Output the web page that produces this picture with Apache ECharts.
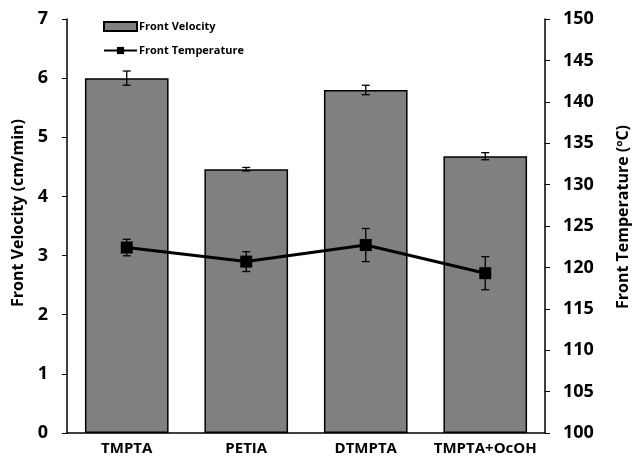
<!DOCTYPE html>
<html>
<head>
<meta charset="utf-8">
<script src="https://cdn.jsdelivr.net/npm/echarts@6/dist/echarts.min.js"></script>
<style>
  html, body { margin: 0; padding: 0; background: #fff; }
  #chart { width: 639px; height: 464px; }
</style>
</head>
<body>
<div id="chart"></div>
<script>
const categories = ['TMPTA', 'PETIA', 'DTMPTA', 'TMPTA+OcOH'];
const velocity = [6.0, 4.46, 5.8, 4.68];
const velocityErr = [0.12, 0.03, 0.08, 0.06];
const temperature = [122.4, 120.7, 122.7, 119.3];
const temperatureErr = [1.0, 1.2, 2.0, 2.0];

const FONT = '"Open Sans"';

// whisker series: [index, low, high]
function errorSeries(values, errs, axisIndex, z) {
  return {
    type: 'custom',
    yAxisIndex: axisIndex,
    z: z,
    silent: true,
    data: values.map((v, i) => [i, v - errs[i], v + errs[i]]),
    encode: { x: 0, y: [1, 2] },
    renderItem: (params, api) => {
      const lo = api.coord([api.value(0), api.value(1)]);
      const hi = api.coord([api.value(0), api.value(2)]);
      const w = 4;
      const st = { stroke: '#000', lineWidth: 1.3 };
      return {
        type: 'group',
        children: [
          { type: 'line', shape: { x1: lo[0], y1: lo[1], x2: hi[0], y2: hi[1] }, style: st },
          { type: 'line', shape: { x1: lo[0] - w, y1: lo[1], x2: lo[0] + w, y2: lo[1] }, style: st },
          { type: 'line', shape: { x1: hi[0] - w, y1: hi[1], x2: hi[0] + w, y2: hi[1] }, style: st }
        ]
      };
    }
  };
}

const chart = echarts.init(document.getElementById('chart'));
chart.setOption({
  animation: false,
  textStyle: { fontFamily: FONT },
  grid: { left: 67, right: 80, top: 19, bottom: 31 },
  legend: {
    orient: 'vertical',
    left: 98,
    top: 16,
    itemGap: 13,
    itemWidth: 33,
    itemHeight: 9,
    textStyle: { fontSize: 11, fontWeight: 'bold', color: '#000', fontFamily: FONT, padding: [0, 0, 0, -3] },
    data: [
      { name: 'Front Velocity', icon: 'rect' },
      { name: 'Front Temperature' }
    ]
  },
  xAxis: {
    type: 'category',
    data: categories,
    axisLine: { lineStyle: { color: '#000', width: 1.5 } },
    axisTick: { alignWithLabel: true, length: 5, lineStyle: { color: '#000' } },
    axisLabel: { color: '#000', fontSize: 15, fontWeight: 'bold', margin: 8, interval: 0 }
  },
  yAxis: [
    {
      type: 'value',
      min: 0, max: 7, interval: 1,
      name: 'Front Velocity (cm/min)',
      nameLocation: 'middle',
      nameGap: 41,
      nameTextStyle: { fontSize: 16, fontWeight: 'bold', color: '#000', padding: [0, 0, 0, 26] },
      axisLine: { show: true, lineStyle: { color: '#000', width: 1.5 } },
      axisTick: { show: true, length: 5, lineStyle: { color: '#000' } },
      splitLine: { show: false },
      axisLabel: { color: '#000', fontSize: 18, fontWeight: 'bold', margin: 19 }
    },
    {
      type: 'value',
      min: 100, max: 150, interval: 5,
      position: 'right',
      name: 'Front Temperature (ºC)',
      nameLocation: 'middle',
      nameGap: 70,
      nameTextStyle: { fontSize: 16, fontWeight: 'bold', color: '#000', padding: [0, 0, 0, 18] },
      axisLine: { show: true, lineStyle: { color: '#000', width: 1.5 } },
      axisTick: { show: true, length: 5, lineStyle: { color: '#000' } },
      splitLine: { show: false },
      axisLabel: { color: '#000', fontSize: 18, fontWeight: 'bold', margin: 18 }
    }
  ],
  series: [
    {
      name: 'Front Velocity',
      type: 'bar',
      yAxisIndex: 0,
      barWidth: '70%',
      z: 2,
      itemStyle: { color: '#808080', borderColor: '#000', borderWidth: 1.5 },
      data: velocity
    },
    errorSeries(velocity, velocityErr, 0, 3),
    errorSeries(temperature, temperatureErr, 1, 4),
    {
      name: 'Front Temperature',
      type: 'line',
      yAxisIndex: 1,
      z: 5,
      symbol: 'rect',
      symbolSize: 12,
      itemStyle: { color: '#000' },
      lineStyle: { color: '#000', width: 3 },
      data: temperature
    }
  ]
});
</script>
</body>
</html>
